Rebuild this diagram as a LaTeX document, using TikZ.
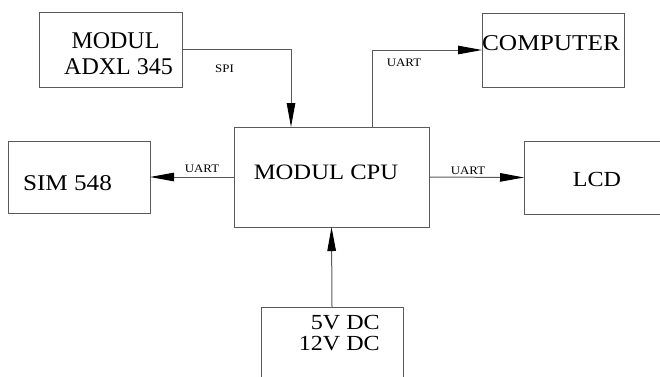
\documentclass[tikz,border=0pt]{standalone}
\usepackage{fontspec}
\setmainfont{Liberation Serif}
\newfontfamily\widefont[FakeStretch=1.12]{Liberation Serif}
\usetikzlibrary{arrows.meta}
\definecolor{linegray}{HTML}{5A5A5A}
\tikzset{
  box/.style={draw=linegray, line width=1pt, rectangle, inner sep=0pt, outer sep=0pt},
  arr/.style={draw=linegray, line width=1pt, -{Triangle[length=24pt,width=8.5pt,black]}},
  big/.style={inner sep=0pt, anchor=base, font=\widefont\fontsize{22}{26}\selectfont},
  lbl/.style={inner sep=0pt, anchor=base, font=\widefont\fontsize{11.5}{13}\selectfont}
}
\begin{document}
\begin{tikzpicture}[x=1pt,y=-1pt]
\useasboundingbox (0,0) rectangle (660,376);
\begin{scope}
\clip (0,0) rectangle (660,376);
% boxes
\node[box, minimum width=143pt, minimum height=75pt] (adxl) at (110.5,49.5) {};
\node[box, minimum width=142pt, minimum height=74pt] (comp) at (553,50) {};
\node[box, minimum width=142pt, minimum height=72pt] (sim) at (79,177) {};
\node[box, minimum width=195pt, minimum height=100pt] (cpu) at (331.5,177) {};
\node[box, minimum width=156pt, minimum height=73pt] (lcd) at (602,177.5) {};
\node[box, minimum width=142pt, minimum height=93pt] (pwr) at (332,353.5) {};
% texts
\node[inner sep=0pt, anchor=base, font=\fontsize{24}{26}\selectfont] (tAdxlA) at (115.5,48) {MODUL};
\node[inner sep=0pt, anchor=base, font=\fontsize{24}{26}\selectfont] (tAdxlB) at (118.5,74) {ADXL 345};
\node[big, font=\widefont\fontsize{22.6}{26}\selectfont] (tComp) at (551,50) {COMPUTER};
\node[big, font=\widefont\fontsize{22.5}{26}\selectfont] (tSim) at (67.5,190) {SIM 548};
\node[big] (tCpu) at (326,179) {MODUL CPU};
\node[big, font=\widefont\fontsize{21.5}{26}\selectfont] (tLcd) at (597,186) {LCD};
\node[big, anchor=base east, font=\widefont\fontsize{21.5}{26}\selectfont] (tPwrA) at (380,329) {5V DC};
\node[big, anchor=base east, font=\widefont\fontsize{21.5}{26}\selectfont] (tPwrB) at (380,350) {12V DC};
% connectors
\draw[arr] (adxl.east) -| ([xshift=57pt]cpu.north west);
\draw[arr] ([xshift=138pt]cpu.north west) |- (comp.west);
\draw[arr] (cpu.west) -- (sim.east);
\draw[arr] (cpu.east) -- (lcd.west);
\draw[arr] (pwr.north) -- (cpu.south);
% labels
\node[lbl] (lSpi) at (224.5,72) {SPI};
\node[lbl] (lSim) at (202,172) {UART};
\node[lbl] (lLcd) at (468,174) {UART};
\node[lbl] (lComp) at (404,66) {UART};
\end{scope}
\end{tikzpicture}
\end{document}
